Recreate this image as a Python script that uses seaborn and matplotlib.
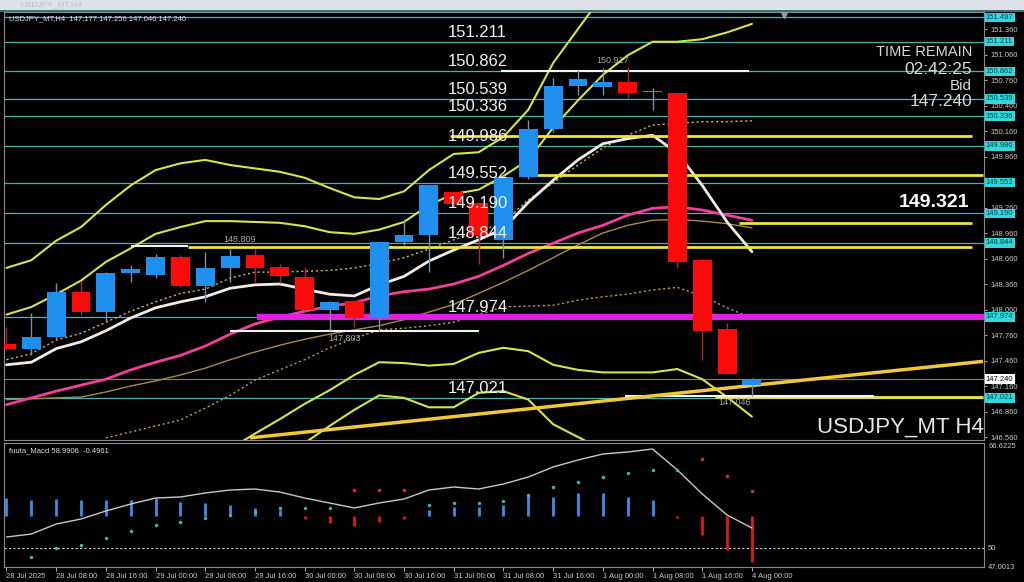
import numpy as np
import pandas as pd
import matplotlib
matplotlib.use("Agg")
import matplotlib.pyplot as plt
import seaborn as sns
from matplotlib.patches import Rectangle

sns.set_theme(style="dark")
plt.rcParams['font.family'] = ['Liberation Sans', 'DejaVu Sans']

NaN = np.nan

# ---------------- data ----------------
time_labels = ["28 Jul 2025", "28 Jul 08:00", "28 Jul 16:00", "29 Jul 00:00", "29 Jul 08:00",
               "29 Jul 16:00", "30 Jul 00:00", "30 Jul 08:00", "30 Jul 16:00", "31 Jul 00:00",
               "31 Jul 08:00", "31 Jul 16:00", "1 Aug 00:00", "1 Aug 08:00", "1 Aug 16:00",
               "4 Aug 00:00"]

opens = [147.65, 147.60, 147.74, 148.27, 148.03, 148.49, 148.47, 148.68, 148.34, 148.55, 148.70,
         148.56, 148.44, 148.06, 148.16, 147.96, 148.85, 148.94, 149.44, 149.31, 148.88, 149.62,
         150.18, 150.69, 150.68, 150.74, 150.62, 150.61, 148.64, 147.83, 147.177]
highs = [147.85, 148.02, 148.37, 148.40, 148.50, 148.58, 148.71, 148.70, 148.74, 148.77, 148.77,
         148.60, 148.56, 148.16, 148.17, 148.87, 149.13, 149.53, 149.46, 149.32, 149.64, 150.29,
         150.78, 150.88, 150.90, 150.917, 150.67, 150.62, 148.65, 147.90, 147.256]
lows = [147.58, 147.53, 147.70, 148.00, 147.91, 148.38, 148.43, 148.32, 148.15, 148.38, 148.38,
        148.37, 148.03, 147.82, 147.85, 147.803, 148.82, 148.50, 149.28, 148.60, 148.67, 149.60,
        150.15, 150.58, 150.58, 150.55, 150.41, 148.55, 147.47, 147.30, 147.046]
closes = [147.60, 147.74, 148.27, 148.03, 148.49, 148.54, 148.68, 148.34, 148.55, 148.69, 148.55,
          148.45, 148.05, 148.15, 147.96, 148.85, 148.94, 149.52, 149.30, 148.94, 149.62, 150.18,
          150.69, 150.77, 150.74, 150.61, 150.63, 148.62, 147.81, 147.30, 147.240]

bb_upper_outer = [148.55, 148.64, 148.87, 149.03, 149.29, 149.52, 149.70, 149.78, 149.82, 149.76,
                  149.72, 149.68, 149.61, 149.49, 149.38, 149.36, 149.45, 149.70, 149.89, 149.91,
                  150.09, 150.41, 150.96, 151.36, 151.76, NaN, NaN, NaN, NaN, NaN, NaN]
bb_upper_inner = [148.00, 148.09, 148.24, 148.40, 148.62, 148.78, 148.95, 149.03, 149.10, 149.10,
                  149.09, 149.08, 149.04, 148.97, 148.95, 149.00, 149.09, 149.29, 149.42, 149.47,
                  149.63, 149.82, 150.20, 150.52, 150.82, 151.05, 151.21, 151.21, 151.24, 151.32,
                  151.42]
bb_lower_inner = [NaN] * 9 + [146.42, 146.60, 146.77, 146.95, 147.11, 147.29, 147.44, 147.43,
                              147.40, 147.42, 147.55, 147.61, 147.57, 147.41, 147.35, 147.32,
                              147.32, 147.32, 147.36, 147.24, 147.03, 146.80]
bb_lower_outer = [NaN] * 11 + [146.29, 146.49, 146.69, 146.88, 147.05, 147.02, 146.91, 146.91,
                               147.08, 147.10, 147.00, 146.71, 146.56, 146.41,
                               NaN, NaN, NaN, NaN, NaN, NaN]
ma_magenta = [146.94, 147.02, 147.10, 147.17, 147.24, 147.35, 147.44, 147.52, 147.63, 147.77,
              147.89, 147.97, 148.04, 148.10, 148.14, 148.22, 148.27, 148.30, 148.36, 148.45,
              148.58, 148.72, 148.84, 148.96, 149.05, 149.17, 149.25, 149.27, 149.23, 149.17,
              149.11]
ma_white = [147.41, 147.44, 147.60, 147.68, 147.81, 147.96, 148.08, 148.15, 148.21, 148.31,
            148.35, 148.36, 148.30, 148.24, 148.22, 148.35, 148.45, 148.63, 148.76, 148.88,
            149.01, 149.32, 149.58, 149.82, 150.01, 150.07, 150.11, 149.90, 149.52, 149.09,
            148.74]
ma_dotted_fast = [147.47, 147.54, 147.70, 147.78, 147.91, 148.04, 148.15, 148.25, 148.30, 148.43,
                  148.50, 148.50, 148.51, 148.52, 148.55, 148.60, 148.67, 148.77, 148.88, 148.97,
                  149.09, 149.35, 149.55, 149.76, 149.96, 150.11, 150.23, 150.25, 150.27, 150.27,
                  150.28]
ma_tan = [147.00, 147.01, 147.02, 147.03, 147.09, 147.16, 147.22, 147.29, 147.37, 147.47, 147.56,
          147.64, 147.71, 147.77, 147.82, 147.87, 147.94, 148.03, 148.12, 148.25, 148.38, 148.52,
          148.67, 148.82, 148.96, 149.05, 149.11, 149.12, 149.10, 149.07, 149.02]
ma_dotted_slow = [NaN] * 4 + [146.55, 146.62, 146.69, 146.76, 146.90, 147.05, 147.23, 147.35,
                              147.47, 147.61, 147.72, 147.82, 147.84, 147.87, 147.91, 148.00,
                              148.09, 148.10, 148.11, 148.17, 148.21, 148.24, 148.29, 148.32,
                              148.22, 148.08, 147.96]

level_prices = [151.497, 151.211, 150.862, 150.539, 150.336, 149.986, 149.552, 149.190,
                148.844, 147.974, 147.021]
level_texts = ["151.211", "150.862", "150.539", "150.336", "149.986", "149.552", "149.190",
               "148.844", "147.974", "147.021"]
axis_ticks = [146.560, 146.860, 147.160, 147.460, 147.760, 148.060, 148.360, 148.660, 148.960,
              149.260, 149.860, 150.160, 150.460, 150.760, 151.060, 151.360]

# horizontal drawn objects: (price, start bar, end bar)
yellow_lines = [(150.10, 17.85, 38.85), (149.64, 21.0, 39.3), (149.08, 29.5, 38.85),
                (148.80, 7.3, 38.85), (147.03, 28.5, 39.3)]
white_lines = [(150.862, 19.9, 29.9), (148.809, 5.0, 7.3), (147.803, 9.0, 19.0),
               (147.046, 24.9, 34.9)]
magenta_level = (147.974, 10.1, 39.4)
trend_bars = [9.8, 39.3]
trend_prices = [146.55, 147.45]
bid_price = 147.240

small_marks = [("148.809", 9.4, 148.809), ("147.803", 13.6, 147.803),
               ("150.917", 24.4, 150.917), ("147.046", 29.3, 147.046)]

macd_line = [51.75, 52.24, 53.87, 54.69, 56.00, 57.14, 58.12, 58.29, 58.94, 59.43, 59.59, 59.10,
             58.12, 57.31, 56.49, 57.31, 57.96, 59.43, 59.92, 59.59, 60.41, 61.55, 63.19, 64.33,
             65.31, 65.64, 66.13, 62.70, 58.78, 55.35, 53.22]
hist_base = 55.18
hist = [2.94, 2.61, 2.78, 2.61, 2.61, 2.61, 2.94, 2.29, 2.12, 1.80, 1.31, 1.0, -0.5, -1.1, -1.6,
        -0.9, -0.5, 1.0, 1.5, 1.5, 1.8, 3.4, 3.1, 3.8, 3.8, 3.1, 2.6, -0.3, -3.1, -5.6, -7.5]
signal_dots = [NaN, 48.48, 49.95, 50.44, 51.59, 52.73, 53.71, 54.20, 54.86, 55.35, 55.84, 56.49,
               56.49, 56.49, 59.43, 59.43, 59.43, 56.98, 57.31, 57.31, 57.63, 58.61, 59.92, 60.74,
               61.55, 62.21, 62.70, 62.70, 64.50, 61.72, 59.27]
dot_falling = [False] * 14 + [True, True, True] + [False] * 11 + [True, True, True]

# ---------------- figure ----------------
W, H = 1024, 582
fig = plt.figure(figsize=(W / 100, H / 100), dpi=100, facecolor='black')
ax = fig.add_axes([4 / W, 1 - 440 / H, 980 / W, 428 / H])
ax2 = fig.add_axes([4 / W, 1 - 567 / H, 980 / W, 124 / H])

# window title strip
fig.patches.append(Rectangle((0, 1 - 10 / H), 1, 10 / H, transform=fig.transFigure,
                             facecolor='#dde2e8', edgecolor='none'))
fig.text(20 / W, 1 - 5 / H, "USDJPY_MT,H4", color='#b8bec8', fontsize=6, va='center')
fig.patches.append(Rectangle((0, 1 - 12 / H), 1, 2 / H, transform=fig.transFigure,
                             facecolor='#3c6c74', edgecolor='none'))

x = np.arange(len(opens))
XMIN, XMAX = -0.1, 39.34

for a in (ax, ax2):
    a.set_facecolor('black')
    a.set_xlim(XMIN, XMAX)
    for s in a.spines.values():
        s.set_color('#8a8a8a')
        s.set_linewidth(0.8)
    a.grid(False)

ax.set_ylim(146.525, 151.56)
ax2.set_ylim(46.85, 67.11)

# level lines
for p in level_prices:
    ax.axhline(p, color='#47b3b3', lw=0.9, zorder=1)
ax.axhline(bid_price, color='#7a7a7a', lw=0.9, zorder=1)

# moving averages / bands
df = pd.DataFrame({'bar': x, 'bbuo': bb_upper_outer, 'bbui': bb_upper_inner,
                   'bbli': bb_lower_inner, 'bblo': bb_lower_outer, 'mag': ma_magenta,
                   'wht': ma_white, 'dfast': ma_dotted_fast, 'tan': ma_tan,
                   'dslow': ma_dotted_slow})
for col in ['bbuo', 'bbui', 'bbli', 'bblo']:
    sns.lineplot(data=df.dropna(subset=[col]), x='bar', y=col, ax=ax, color='#d6e44c',
                 lw=1.5, zorder=3)
sns.lineplot(data=df, x='bar', y='tan', ax=ax, color='#a88a4c', lw=1.0, zorder=3)
sns.lineplot(data=df.dropna(subset=['dslow']), x='bar', y='dslow', ax=ax, color='#c8a050',
             lw=1.0, linestyle=(0, (1.5, 2)), zorder=3)
sns.lineplot(data=df, x='bar', y='dfast', ax=ax, color='#d8b860', lw=1.0,
             linestyle=(0, (1.5, 2)), zorder=3)
sns.lineplot(data=df, x='bar', y='mag', ax=ax, color='#f0409c', lw=2.0, zorder=3)
sns.lineplot(data=df, x='bar', y='wht', ax=ax, color='#f2ece4', lw=2.0, zorder=3)

# drawn objects
for p, x0, x1 in yellow_lines:
    ax.hlines(p, x0, x1, color='#f0e442', lw=2.0, zorder=4)
for p, x0, x1 in white_lines:
    ax.hlines(p, x0, x1, color='#f4f4f4', lw=1.5, zorder=4)
ax.hlines(magenta_level[0], magenta_level[1], magenta_level[2], color='#e020e0', lw=4.5, zorder=4)
ax.plot(trend_bars, trend_prices, color='#f0c838', lw=2.5, zorder=4, solid_capstyle='butt')

# candles
opens_a, closes_a = np.array(opens), np.array(closes)
up = closes_a >= opens_a
body_lo = np.minimum(opens_a, closes_a)
body_h = np.maximum(np.abs(closes_a - opens_a), 0.012)
for i in range(len(x)):
    wick_c = '#7d8ea6' if up[i] else '#b02828'
    ax.vlines(x[i], lows[i], highs[i], color=wick_c, lw=1.0, zorder=5)
ax.bar(x[up], body_h[up], bottom=body_lo[up], width=0.76, color='#2090f0', zorder=6,
       linewidth=0)
ax.bar(x[~up], body_h[~up], bottom=body_lo[~up], width=0.76, color='#ff0a0a', zorder=6,
       linewidth=0)

# level texts
for t in level_texts:
    ax.text(17.77, float(t) + 0.025, t, color='#f2f2f2', fontsize=12, va='bottom', ha='left',
            zorder=7)
for t, bx, p in small_marks:
    below = t in ("147.803", "147.046")
    ax.text(bx, p + (-0.03 if below else 0.02), t, color='#a8a8a8', fontsize=6.5,
            ha='center', va='top' if below else 'bottom', zorder=7)
ax.text(0.985, 149.321, "149.321", transform=ax.get_yaxis_transform(), color='white',
        fontsize=14, fontweight='bold', ha='right', va='center', zorder=8)

# info texts
for txt, yy, fs in [("TIME REMAIN", 52, 10.5), ("02:42:25", 70, 12.5), ("Bid", 86, 11),
                    ("147.240", 101, 12.5)]:
    fig.text(972 / W, 1 - yy / H, txt, color='#d8d8d8', fontsize=fs, ha='right', va='center')
fig.text(984 / W, 1 - 427 / H, "USDJPY_MT H4", color='#e8e8e8', fontsize=16, ha='right',
         va='center')
fig.text(9 / W, 1 - 19 / H, "USDJPY_MT,H4  147.177 147.256 147.046 147.240", color='#e0e0e0',
         fontsize=5.5, va='center')
fig.text(9 / W, 1 - 451 / H, "fuuta_Macd 58.9906  -0.4961", color='#e0e0e0', fontsize=5.5,
         va='center')
ax.plot([31.3], [151.53], marker='v', color='#9a9a9a', markersize=4, clip_on=False, zorder=8)

# right price axis
ax.yaxis.tick_right()
ax.set_yticks(axis_ticks)
ax.set_yticklabels([f"{v:.3f}" for v in axis_ticks])
ax.tick_params(axis='y', colors='#c8c8c8', labelsize=5.5, length=2.5, width=0.6, pad=2,
               direction='out', right=True, left=False)
ax.set_xticks([])
ax.set_xlabel("")
ax.set_ylabel("")
for p in level_prices:
    ax.text(1.002, p, f"{p:.3f}", transform=ax.get_yaxis_transform(), color='#00484c',
            fontsize=5.5, va='center', ha='left', zorder=9, clip_on=False,
            bbox=dict(facecolor='#30d8dc', edgecolor='none', pad=0.9))
ax.text(1.002, bid_price, f"{bid_price:.3f}", transform=ax.get_yaxis_transform(),
        color='black', fontsize=5.5, va='center', ha='left', zorder=9, clip_on=False,
        bbox=dict(facecolor='white', edgecolor='none', pad=0.9))

# MACD panel
df2 = pd.DataFrame({'bar': x, 'line': macd_line, 'dot': signal_dots,
                    'fall': dot_falling})
hist_a = np.array(hist)
for i in range(len(x)):
    c = '#3c8ee8' if hist_a[i] >= 0 else '#e01818'
    ax2.vlines(x[i], hist_base, hist_base + hist_a[i], color=c, lw=2.0, zorder=3)
ax2.axhline(50, color='#d0d0d0', lw=0.8, ls=(0, (2, 2)), zorder=2)
sns.lineplot(data=df2, x='bar', y='line', ax=ax2, color='#c8c8c8', lw=1.0, zorder=4)
dd = df2.dropna(subset=['dot'])
sns.scatterplot(data=dd[~dd['fall']], x='bar', y='dot', ax=ax2, color='#40b8b0', s=6,
                linewidth=0, zorder=5)
sns.scatterplot(data=dd[dd['fall']], x='bar', y='dot', ax=ax2, color='#e03030', s=6,
                linewidth=0, zorder=5)
ax2.yaxis.tick_right()
ax2.set_yticks([47.0013, 50, 66.6225])
ax2.set_yticklabels(["47.0013", "50", "66.6225"])
ax2.tick_params(axis='y', colors='#c8c8c8', labelsize=5.5, length=0, pad=3)
ax2.set_xticks(np.arange(0, 31, 2))
ax2.set_xticklabels(time_labels, ha='left')
ax2.tick_params(axis='x', colors='#c8c8c8', labelsize=5.5, length=3, width=0.6, pad=1,
                direction='out', bottom=True)
ax2.set_xlabel("")
ax2.set_ylabel("")

fig.savefig("out.png", dpi=100, facecolor='black')
